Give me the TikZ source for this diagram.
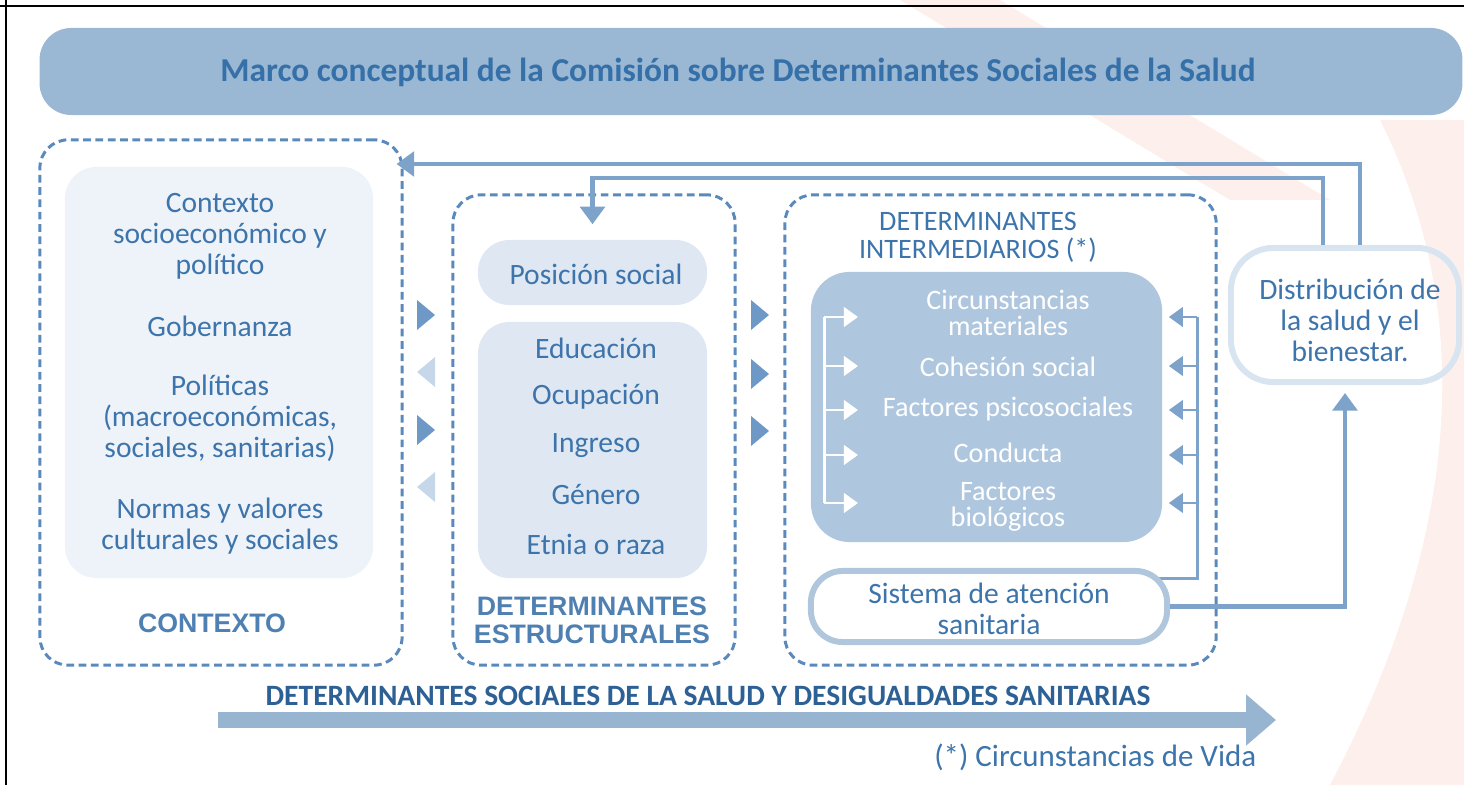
\documentclass[tikz,border=0pt]{standalone}
\usepackage{fontspec}
\setmainfont{Carlito}
\newfontfamily\arialf{Liberation Sans}
\usepackage{tikz}
\usetikzlibrary{positioning,arrows.meta,backgrounds}

\definecolor{titfill}{HTML}{9AB7D3}
\definecolor{titext}{HTML}{3570A8}
\definecolor{dashblue}{HTML}{5A89BB}
\definecolor{txtblue}{HTML}{3C74AB}
\definecolor{capblue}{HTML}{4F80B2}
\definecolor{ctxfill}{HTML}{EEF3F9}
\definecolor{estrfill}{HTML}{DEE7F2}
\definecolor{interfill}{HTML}{AFC7DE}
\definecolor{flowblue}{HTML}{7EA3CA}
\definecolor{tridark}{HTML}{6E99C6}
\definecolor{trilight}{HTML}{C6D7E9}
\definecolor{sisline}{HTML}{AFC6DD}
\definecolor{distline}{HTML}{D8E4F0}
\definecolor{barblue}{HTML}{97B4D1}
\definecolor{bottext}{HTML}{2D6094}
\definecolor{wmpink}{HTML}{FBE4DF}

\newcommand{\bodyfont}{\fontsize{8.4}{8.8}\selectfont}
\newcommand{\triR}[3]{\fill[#3] (#1,#2-15) -- (#1+18,#2) -- (#1,#2+15) -- cycle;}
\newcommand{\triL}[3]{\fill[#3] (#1+18,#2-15) -- (#1,#2) -- (#1+18,#2+15) -- cycle;}

\begin{document}
\begin{tikzpicture}[x=0.01cm, y=-0.01cm,
    dashbox/.style={draw=dashblue, line width=0.85pt, dash pattern=on 2.2pt off 1.3pt, rounded corners=8pt},
    panel/.style={rounded corners=9pt, inner sep=0pt},
    txt/.style={text=txtblue, align=center, font=\bodyfont},
    wtxt/.style={text=white, align=center, font=\fontsize{8}{7.2}\selectfont},
    caps/.style={text=capblue, align=center, font=\arialf\bfseries\fontsize{7.6}{8}\selectfont},
    flow/.style={draw=flowblue, line width=1.15pt, -{Triangle[length=5pt,width=7pt]}},
    flowthin/.style={draw=flowblue, line width=0.85pt, -{Triangle[length=4pt,width=5.5pt]}},
    wflow/.style={draw=white, line width=0.85pt, -{Triangle[length=4pt,width=5.5pt]}}]
    \useasboundingbox (0,0) rectangle (1464,785);

    % faint emblem behind the chart
    \begin{pgfonlayer}{background}
    \fill[wmpink, opacity=0.6] (900,0) -- (1000,0) -- (1330,200) -- (1230,200) -- cycle;
    \fill[wmpink, opacity=0.6] (1380,120) .. controls (1470,300) and (1470,520) .. (1330,785) -- (1464,785) -- (1464,120) -- cycle;
    \end{pgfonlayer}

    % frame
    \draw[line width=0.6pt] (0,6) -- (1464,6);
    \draw[line width=0.6pt] (6,0) -- (6,785);

    % title
    \node[panel, fill=titfill, minimum width=14.22cm, minimum height=0.87cm] (tit) at (751,71.5) {};
    \node[text=titext, font=\bfseries\fontsize{9.5}{10}\selectfont] (tittxt) at (738,72)
        {Marco conceptual de la Comisión sobre Determinantes Sociales de la Salud};

    % context
    \node[dashbox, minimum width=3.62cm, minimum height=5.25cm] (ctx) at (221,402.5) {};
    \node[panel, fill=ctxfill, minimum width=3.08cm, minimum height=4.11cm] (ctxin) at (219,372.5) {};
    \node[txt] (soc) at (220,236) {Contexto\\socioeconómico y\\político};
    \node[txt] (gob) at (220,326) {Gobernanza};
    \node[txt] (pol) at (220,418) {Políticas\\(macroeconómicas,\\sociales, sanitarias)};
    \node[txt] (nor) at (220,526) {Normas y valores\\culturales y sociales};
    \node[caps] (ctxlab) at (212,623) {CONTEXTO};

    % structural determinants
    \node[dashbox, minimum width=2.82cm, minimum height=4.70cm] (estr) at (594,430) {};
    \node[panel, fill=estrfill, minimum width=2.29cm, minimum height=0.65cm] (pos) at (592.5,272.5) {};
    \node[txt] (postxt) at (596,274) {Posición social};
    \node[panel, fill=estrfill, minimum width=2.29cm, minimum height=2.56cm] (estrin) at (592.5,450) {};
    \foreach \lab/\y in {Educación/348, Ocupación/397, Ingreso/446, Género/495, Etnia o raza/544}
        \node[txt] (e\y) at (596,\y) {\lab};
    \node[caps] (estrlab) at (592,620) {DETERMINANTES\\ESTRUCTURALES};

    % intermediary determinants
    \node[dashbox, minimum width=4.31cm, minimum height=4.70cm] (inter) at (1000.5,430) {};
    \node[txt, font=\fontsize{8}{8}\selectfont] (interlab) at (978,237) {DETERMINANTES\\INTERMEDIARIOS (*)};
    \node[panel, fill=interfill, rounded corners=11pt, minimum width=3.51cm, minimum height=2.70cm] (circ) at (986.5,407) {};
    \node[wtxt] (c1) at (1008,313) {Circunstancias\\materiales};
    \node[wtxt] (c2) at (1008,367) {Cohesión social};
    \node[wtxt] (c3) at (1008,409) {Factores psicosociales};
    \node[wtxt] (c4) at (1008,453) {Conducta};
    \node[wtxt] (c5) at (1008,507) {Factores\\biológicos};
    \node[panel, draw=sisline, line width=1.7pt, fill=white, rounded corners=9pt, minimum width=3.56cm, minimum height=0.71cm] (sis) at (989,606.5) {};
    \node[txt] (sistxt) at (989,609) {Sistema de atención\\sanitaria};

    % outcome
    \node[panel, draw=distline, line width=1.7pt, rounded corners=12pt, minimum width=2.28cm, minimum height=1.34cm] (dist) at (1345,315) {};
    \node[txt] (disttxt) at (1350,320) {Distribución de\\la salud y el\\bienestar.};

    % small triangles between the columns
    \triR{417}{315}{tridark}
    \triL{417}{372}{trilight}
    \triR{417}{430}{tridark}
    \triL{417}{487}{trilight}
    \triR{751}{315}{tridark}
    \triR{751}{374}{tridark}
    \triR{751}{431}{tridark}

    % feedback lines
    \coordinate (xo) at (1360,164);
    \coordinate (xi) at (1323,178);
    \draw[flow] (dist.north -| xo) |- ([xshift=-2pt]ctx.east |- xo);
    \draw[flow] (dist.north -| xi) |- (pos.north |- xi) -- ([yshift=0.15cm]pos.north);
    \draw[flow] (sis.east) -| ([yshift=-0.08cm]dist.south);

    % brackets
    \coordinate (rtop) at (1197,317);
    \coordinate (rbot) at (1197,578);
    \begin{pgfonlayer}{background}
    \draw[draw=flowblue, line width=0.85pt] (rtop) -- (rbot) -- ([xshift=-0.2cm]rbot -| sis.east);
    \end{pgfonlayer}
    \foreach \y in {317,366,410,455,503}
        \draw[flowthin] (rtop |- 0,\y) -- ([xshift=0.06cm]circ.east |- 0,\y);
    \coordinate (ltop) at (824,317);
    \coordinate (lbot) at (824,503);
    \draw[white, line width=0.85pt] (ltop) -- (lbot);
    \foreach \y in {317,366,410,455,503}
        \draw[wflow] (ltop |- 0,\y) -- ++(34,0);

    % bottom arrow
    \node[text=bottext, font=\bfseries\fontsize{8.4}{9}\selectfont] (dsal) at (708,696)
        {DETERMINANTES SOCIALES DE LA SALUD Y DESIGUALDADES SANITARIAS};
    \coordinate (bs) at (218,720);
    \coordinate (be) at (1276,720);
    \draw[draw=barblue, line width=4.5pt, -{Triangle[length=8.5pt,width=14pt]}] (bs) -- (be);
    \node[txt, anchor=east, inner sep=0pt, font=\fontsize{8.8}{9}\selectfont] (vida) at (1257,757) {(*) Circunstancias de Vida};
\end{tikzpicture}
\end{document}
